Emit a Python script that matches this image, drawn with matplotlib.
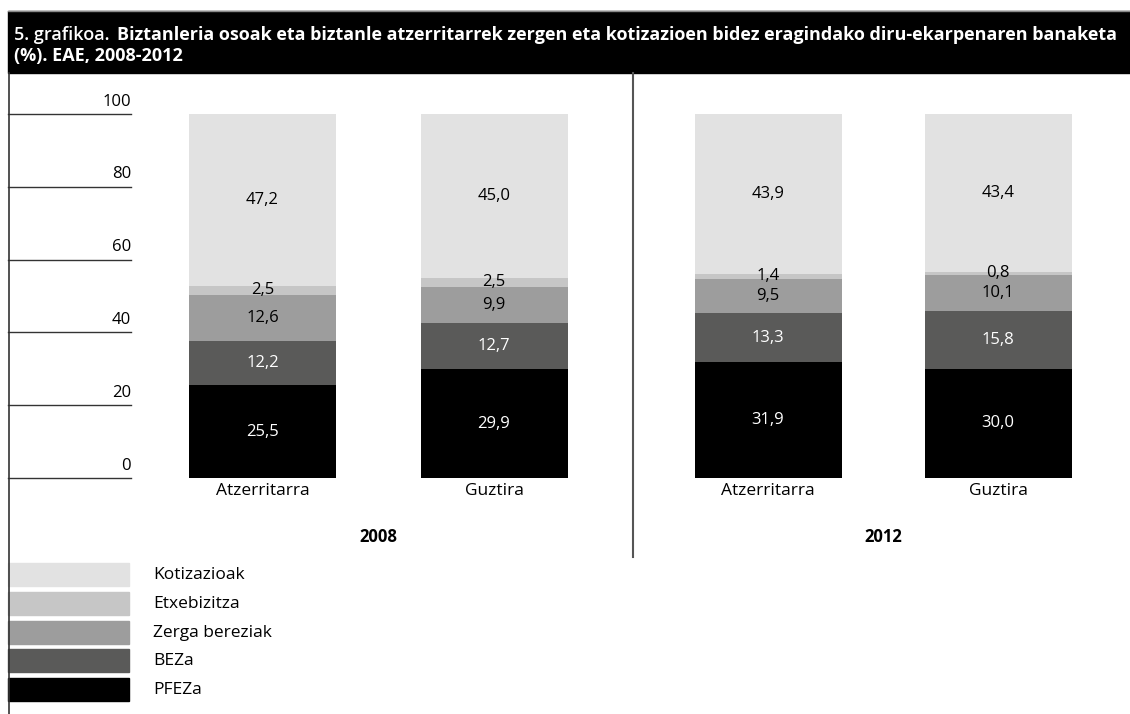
import matplotlib.pyplot as plt
from matplotlib.patches import Rectangle

# data
groups = ["2008", "2012"]
categories = ["Atzerritarra", "Guztira"]
series = ["PFEZa", "BEZa", "Zerga bereziak", "Etxebizitza", "Kotizazioak"]
colors = ["#000000", "#5a5a59", "#9d9d9d", "#c6c6c6", "#e2e2e2"]
text_colors = ["white", "white", "black", "black", "black"]
pfeza = [25.5, 29.9, 31.9, 30.0]
beza = [12.2, 12.7, 13.3, 15.8]
zerga = [12.6, 9.9, 9.5, 10.1]
etxe = [2.5, 2.5, 1.4, 0.8]
koti = [47.2, 45.0, 43.9, 43.4]
yticks = [0, 20, 40, 60, 80, 100]

W, H = 1130, 714
plt.rcParams['font.family'] = ['Open Sans', 'DejaVu Sans']
fig = plt.figure(figsize=(W / 100, H / 100), dpi=100)
r = fig.canvas.get_renderer()


def fit(txt, width):
    # rescale a text so it spans the given pixel width
    w = txt.get_window_extent(r).width
    txt.set_fontsize(txt.get_fontsize() * width / w)


# overlay axes in pixel coords for frame, title, legend
bg = fig.add_axes([0, 0, 1, 1])
bg.set_xlim(0, W)
bg.set_ylim(H, 0)
bg.axis("off")

bg.add_patch(Rectangle((8, 11), W - 8, 62, color="black"))
bg.plot([8, W], [10.5, 10.5], color="#888888", lw=1)
t1 = bg.text(14, 40, "5. grafikoa.", color="white", fontsize=11, fontweight="semibold", va="baseline")
t2 = bg.text(117, 40, "Biztanleria osoak eta biztanle atzerritarrek zergen eta kotizazioen bidez eragindako diru-ekarpenaren banaketa",
             color="white", fontsize=12, fontweight="bold", va="baseline")
fit(t1, 96)
fit(t2, 1006)
bg.text(14, 61, "(%). EAE, 2008-2012", color="white", fontsize=t2.get_fontsize(), fontweight="bold", va="baseline")

bg.plot([8.5, 8.5], [73, H], color="#333333", lw=1.2)
bg.plot([632.5, 632.5], [73, 557], color="#555555", lw=1.5)

# legend
for i, (name, c) in enumerate(reversed(list(zip(series, colors)))):
    y0 = 563 + i * 28.8
    bg.add_patch(Rectangle((8, y0), 121, 23, color=c))
    bg.text(153, y0 + 12, name, fontsize=12.5, va="center", ha="left")

# bar axes: y 0..100 maps to pixel 478..114
y0_px, y100_px = 478, 114
ax = fig.add_axes([0, (H - y0_px) / H, 1, (y0_px - y100_px) / H])
ax.set_xlim(0, W)
ax.set_ylim(0, 100)
ax.axis("off")

centers = [262.5, 494, 768, 998]
width = 147
values = [pfeza, beza, zerga, etxe, koti]
bottom = [0, 0, 0, 0]
for s, vals in enumerate(values):
    ax.bar(centers, vals, width=width, bottom=bottom, color=colors[s], linewidth=0)
    for j, v in enumerate(vals):
        ax.text(centers[j], bottom[j] + v / 2, f"{v:.1f}".replace(".", ","),
                ha="center", va="center", fontsize=12, color=text_colors[s])
    bottom = [b + v for b, v in zip(bottom, vals)]

for t in yticks:
    ax.plot([8, 131], [t, t], color="#333333", lw=1, clip_on=False)
    ax.text(131, t + 1.2, str(t), ha="right", va="bottom", fontsize=12)

for j, c in enumerate(centers):
    bg.text(c, 491, categories[j % 2], ha="center", va="center", fontsize=12.5)
for g, name in enumerate(groups):
    mid = (centers[2 * g] + centers[2 * g + 1]) / 2
    bg.text(mid, 537, name, ha="center", va="center", fontsize=12, fontweight="bold")

fig.savefig("out.png", dpi=100)
